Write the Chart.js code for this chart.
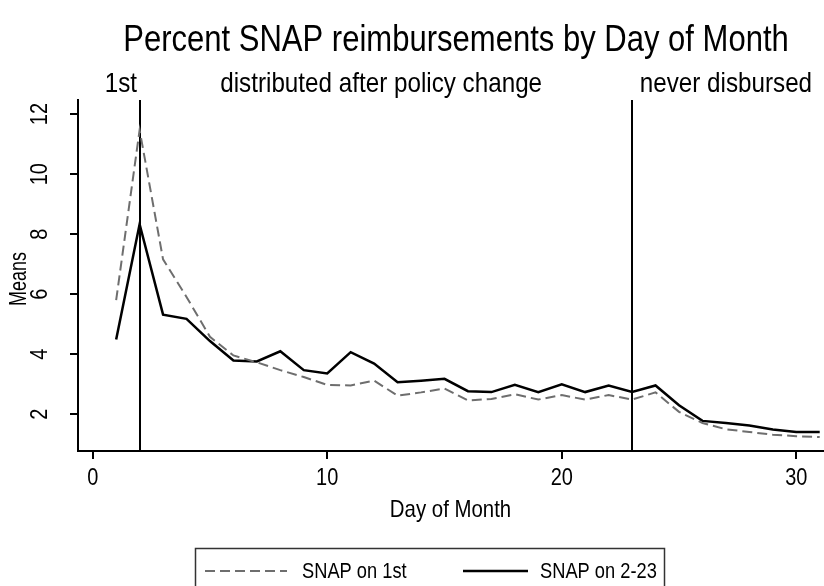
<!DOCTYPE html>
<html><head><meta charset="utf-8">
<script src="https://cdn.jsdelivr.net/npm/chart.js@4"></script>
<style>html,body{margin:0;padding:0;background:#fff}canvas{display:block}</style></head>
<body><canvas id="c" width="824" height="586"></canvas>
<script>
const days = [1,2,3,4,5,6,7,8,9,10,11,12,13,14,15,16,17,18,19,20,21,22,23,24,25,26,27,28,29,30,31];
const snapOnFirst = [5.8,11.47,7.16,5.91,4.58,3.96,3.73,3.47,3.24,2.98,2.96,3.12,2.62,2.73,2.86,2.46,2.51,2.67,2.49,2.64,2.49,2.64,2.49,2.73,2.08,1.71,1.5,1.41,1.32,1.27,1.24];
const snapOn2to23 = [4.49,8.33,5.32,5.18,4.44,3.79,3.76,4.1,3.47,3.36,4.07,3.69,3.07,3.12,3.18,2.77,2.74,2.98,2.74,3.0,2.74,2.96,2.74,2.96,2.3,1.78,1.71,1.63,1.49,1.41,1.41];
const xTickValues = [0,10,20,30];
const yTickValues = [2,4,6,8,10,12];
const policyLineDays = [2,23];
const seriesLabels = ['SNAP on 1st','SNAP on 2-23'];
const regionLabels = ['1st','distributed after policy change','never disbursed'];
const regionLabelDays = [1.2,12.3,27.0];
const chartTitle = 'Percent SNAP reimbursements by Day of Month';
const xTitle = 'Day of Month';
const yTitle = 'Means';

const FONT = '"Liberation Sans", Arial, Helvetica, sans-serif';
const NARROW = 0.85;
const DASH_COLOR = '#6e6e6e';
const SOLID_COLOR = '#000000';

function txt(ctx, s, x, y, size, align, rotated, narrow) {
  ctx.save();
  ctx.font = size + 'px ' + FONT;
  ctx.textAlign = align;
  ctx.textBaseline = 'alphabetic';
  ctx.translate(x, y);
  if (rotated) ctx.rotate(-Math.PI / 2);
  ctx.scale(narrow || NARROW, 1);
  ctx.fillText(s, 0, 0);
  ctx.restore();
}

const decor = {
  id: 'decor',
  beforeDatasetsDraw(chart) {
    const {ctx, chartArea: a, scales: {x}} = chart;
    ctx.save();
    ctx.strokeStyle = '#000';
    ctx.lineWidth = 2;
    policyLineDays.forEach(d => {
      const px = Math.round(x.getPixelForValue(d));
      ctx.beginPath(); ctx.moveTo(px, a.top); ctx.lineTo(px, a.bottom); ctx.stroke();
    });
    ctx.restore();
  },
  afterDraw(chart) {
    const {ctx, chartArea: a, scales: {x, y}} = chart;
    ctx.save();
    ctx.fillStyle = '#000';
    txt(ctx, chartTitle, 456, 51, 36.5, 'center');
    regionLabels.forEach((t, i) => txt(ctx, t, x.getPixelForValue(regionLabelDays[i]), 92, 28.5, 'center'));
    xTickValues.forEach(v => txt(ctx, String(v), x.getPixelForValue(v), 485, 23.5, 'center'));
    yTickValues.forEach(v => txt(ctx, String(v), 47, y.getPixelForValue(v), 23.5, 'center', true));
    txt(ctx, xTitle, (a.left + a.right) / 2, 517, 24, 'center');
    txt(ctx, yTitle, 26, 279, 23, 'center', true, 0.78);
    // legend
    ctx.strokeStyle = '#333';
    ctx.lineWidth = 1.5;
    ctx.strokeRect(195.5, 548.5, 469, 60);
    const ly = 571;
    ctx.lineWidth = 2;
    ctx.strokeStyle = DASH_COLOR;
    ctx.setLineDash([10, 5]);
    ctx.beginPath(); ctx.moveTo(205, ly); ctx.lineTo(287, ly); ctx.stroke();
    ctx.setLineDash([]);
    ctx.strokeStyle = SOLID_COLOR;
    ctx.lineWidth = 2.5;
    ctx.beginPath(); ctx.moveTo(463, ly); ctx.lineTo(528, ly); ctx.stroke();
    txt(ctx, seriesLabels[0], 302, 578, 21.5, 'left');
    txt(ctx, seriesLabels[1], 540, 578, 21.5, 'left');
    ctx.restore();
  }
};

new Chart(document.getElementById('c'), {
  type: 'line',
  data: {
    datasets: [
      {label: seriesLabels[0], data: days.map((d, i) => ({x: d, y: snapOnFirst[i]})),
       borderColor: DASH_COLOR, borderWidth: 2, borderDash: [10, 5], pointRadius: 0, tension: 0, fill: false},
      {label: seriesLabels[1], data: days.map((d, i) => ({x: d, y: snapOn2to23[i]})),
       borderColor: SOLID_COLOR, borderWidth: 2.5, pointRadius: 0, tension: 0, fill: false}
    ]
  },
  options: {
    responsive: false, animation: false, devicePixelRatio: 1,
    layout: {padding: {top: 100, right: 1, left: 0, bottom: 0}},
    plugins: {legend: {display: false}, title: {display: false}, tooltip: {enabled: false}},
    scales: {
      x: {type: 'linear', min: -0.627, max: 31.14,
          afterBuildTicks: s => { s.ticks = xTickValues.map(v => ({value: v})); },
          afterFit: s => { s.height = 135; },
          ticks: {display: false},
          grid: {display: true, drawOnChartArea: false, drawTicks: true, tickLength: 8, color: '#000', lineWidth: 2},
          border: {display: true, color: '#000', width: 2}},
      y: {type: 'linear', min: 0.777, max: 12.47,
          afterBuildTicks: s => { s.ticks = yTickValues.map(v => ({value: v})); },
          afterFit: s => { s.width = 78; },
          ticks: {display: false},
          grid: {display: true, drawOnChartArea: false, drawTicks: true, tickLength: 8, color: '#000', lineWidth: 2},
          border: {display: true, color: '#000', width: 2}}
    }
  },
  plugins: [decor]
});
</script>
</body></html>
